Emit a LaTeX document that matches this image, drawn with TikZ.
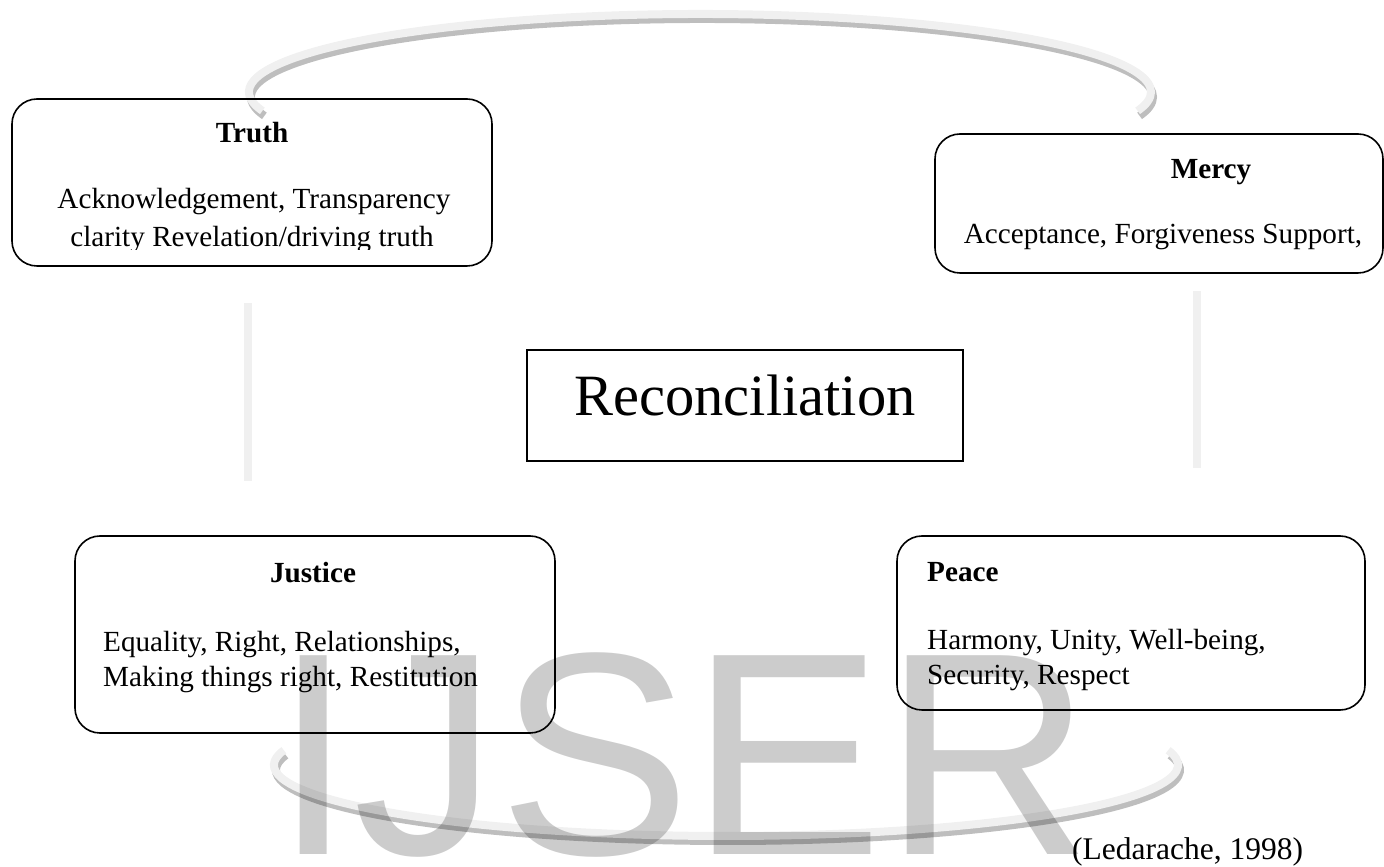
\documentclass[tikz,border=0pt]{standalone}
\usepackage{fontspec}
\setmainfont{Liberation Serif}
\newfontfamily\wmfont{Liberation Sans}
\definecolor{bandlight}{HTML}{F0F0F0}
\definecolor{banddark}{HTML}{BEBEBE}
\begin{document}
\begin{tikzpicture}[x=1pt,y=1pt,
  rbox/.style={draw=black, line width=1.6pt, rounded corners=25pt, inner sep=0pt},
  sqbox/.style={draw=black, line width=1.6pt, inner sep=0pt},
  body/.style={inner sep=0pt, font=\fontsize{29.2}{35}\selectfont},
  title/.style={inner sep=0pt, font=\fontsize{29.2}{35}\selectfont\bfseries},
  bandshadow/.style={draw=banddark, line width=8pt},
  bandface/.style={draw=bandlight, line width=8pt},
  bar/.style={draw=bandlight, line width=8pt}
]
\useasboundingbox (0,0) rectangle (1384,867);

% curved bands (face centre and its shadow centre)
\coordinate (topc) at (700,775);
\coordinate (topcs) at (702,770);
\coordinate (botc) at (726,102);
\coordinate (botcs) at (728,97);
\draw[bandshadow] ([shift={(194:451pt and 78pt)}]topcs) arc[start angle=194, end angle=-14, x radius=451pt, y radius=78pt];
\draw[bandface] ([shift={(194:451pt and 78pt)}]topc) arc[start angle=194, end angle=-14, x radius=451pt, y radius=78pt];
\draw[bandshadow] ([shift={(168:452pt and 71pt)}]botcs) arc[start angle=168, end angle=372, x radius=452pt, y radius=71pt];
\draw[bandface] ([shift={(168:452pt and 71pt)}]botc) arc[start angle=168, end angle=372, x radius=452pt, y radius=71pt];

% vertical bars
\coordinate (lbtop) at (248,564);
\coordinate (lbbot) at (248,386);
\coordinate (rbtop) at (1197,576);
\coordinate (rbbot) at (1197,399);
\draw[bar] (lbtop) -- (lbbot);
\draw[bar] (rbtop) -- (rbbot);

% watermark
\node[anchor=base west, inner sep=0pt, font=\wmfont\fontsize{289}{289}\selectfont, text=black, text opacity=0.2] (wm) at (273,12) {IJSER};

% boxes
\node[rbox, minimum width=480pt, minimum height=167pt] (truth) at (252,684.5) {};
\node[rbox, minimum width=448pt, minimum height=139pt] (mercy) at (1159,663.5) {};
\node[sqbox, minimum width=436pt, minimum height=111pt] (recon) at (745,461.5) {};
\node[rbox, minimum width=480pt, minimum height=197pt] (justice) at (315,232.5) {};
\node[rbox, minimum width=468pt, minimum height=174pt] (peace) at (1131,244) {};

% Truth
\node[title, anchor=base] (truthT) at (252,724) {Truth};
\node[body, anchor=base] (truthA) at (254,658) {Acknowledgement, Transparency};
\begin{scope}
\clip (12,617) rectangle (492,700);
\node[body, anchor=base] (truthB) at (252,620) {clarity Revelation/driving truth};
\end{scope}

% Mercy
\node[title, anchor=base] (mercyT) at (1211,688) {Mercy};
\node[body, anchor=base] (mercyA) at (1163,623) {Acceptance, Forgiveness Support,};

% Reconciliation
\node[inner sep=0pt, anchor=base, font=\fontsize{58.5}{70}\selectfont] (reconT) at (745,451) {Reconciliation};

% Justice
\node[title, anchor=base] (justiceT) at (313,284) {Justice};
\node[body, anchor=base west] (justiceA) at (103,215) {Equality, Right, Relationships,};
\node[body, anchor=base west] (justiceB) at (103,180) {Making things right, Restitution};

% Peace
\node[title, anchor=base west] (peaceT) at (927,285) {Peace};
\node[body, anchor=base west] (peaceA) at (927,217) {Harmony, Unity, Well-being,};
\node[body, anchor=base west] (peaceB) at (927,182) {Security, Respect};

% citation
\node[inner sep=0pt, anchor=base west, font=\fontsize{31.5}{38}\selectfont] (cite) at (1072,7) {(Ledarache, 1998)};
\end{tikzpicture}
\end{document}
